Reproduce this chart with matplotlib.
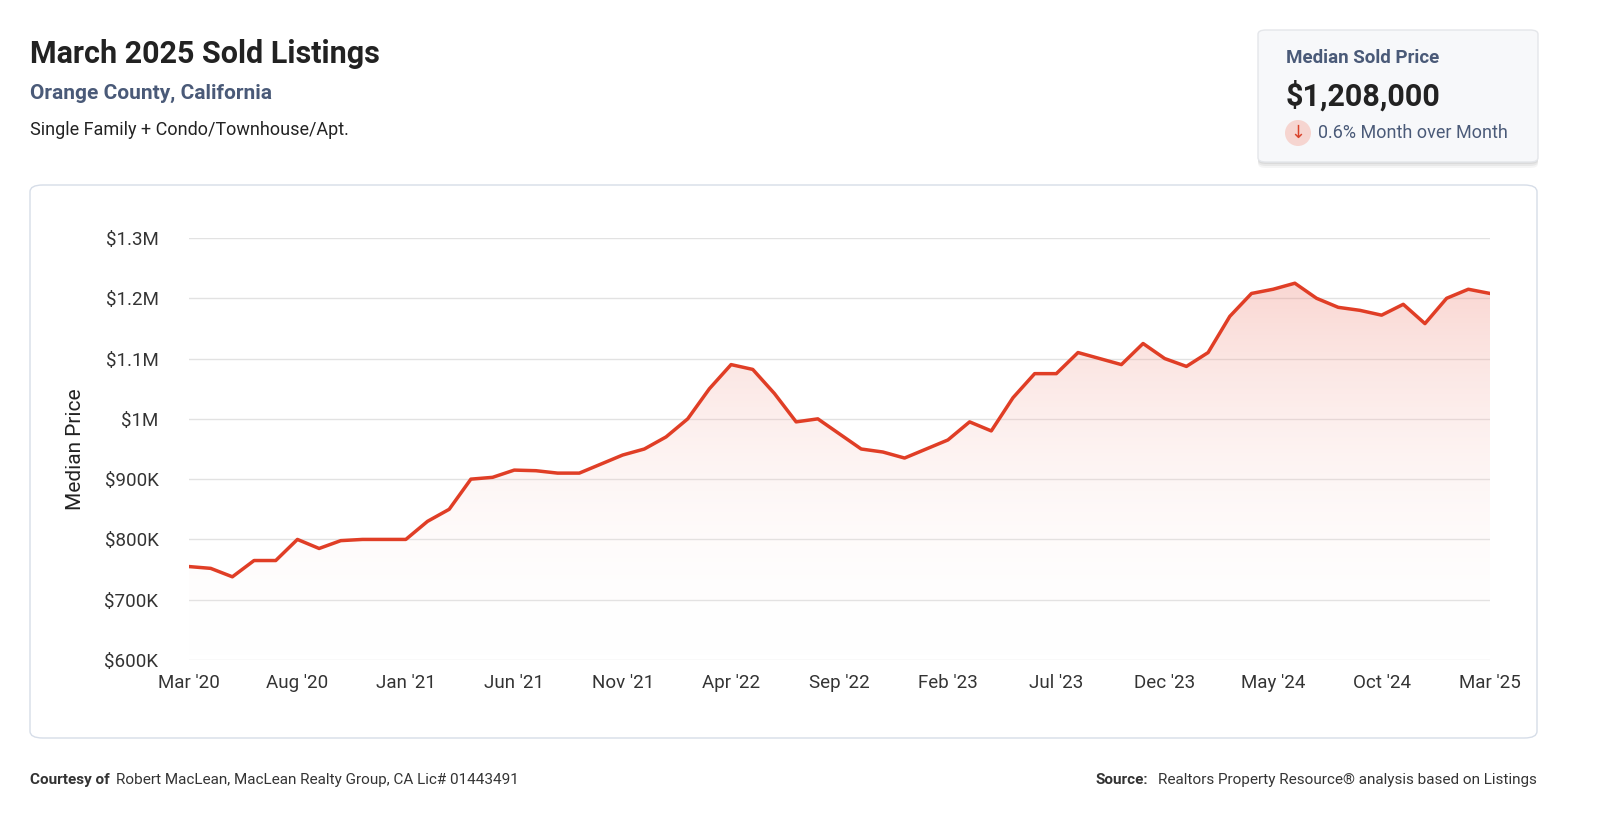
import numpy as np
import matplotlib.pyplot as plt
from matplotlib.patches import FancyBboxPatch, Ellipse
from matplotlib.ticker import FuncFormatter
from matplotlib.colors import LinearSegmentedColormap

plt.rcParams['font.family'] = 'Roboto'

# monthly median sold price, Mar 2020 .. Mar 2025 (thousands of $)
prices = [755, 752, 738, 765, 765, 800, 785, 798, 800, 800,
          800, 830, 850, 900, 903, 915, 914, 910, 910, 925,
          940, 950, 970, 1000, 1050, 1090, 1082, 1042, 995, 1000,
          975, 950, 945, 935, 950, 965, 995, 980, 1035, 1075,
          1075, 1110, 1100, 1090, 1125, 1100, 1087, 1110, 1170, 1208,
          1215, 1225, 1200, 1185, 1180, 1172, 1190, 1158, 1200, 1215,
          1208]
tick_labels = ["Mar '20", "Aug '20", "Jan '21", "Jun '21", "Nov '21", "Apr '22",
               "Sep '22", "Feb '23", "Jul '23", "Dec '23", "May '24", "Oct '24", "Mar '25"]
y_ticks = [600, 700, 800, 900, 1000, 1100, 1200, 1300]

W, H = 1600, 840
fig = plt.figure(figsize=(16, 8.4), dpi=100)
fig.patch.set_facecolor('white')

def fx(px): return px / W
def fy(py): return 1 - py / H

# header
fig.text(fx(30), fy(54), "March 2025 Sold Listings", fontsize=22, fontweight='bold', color='#222222', va='center')
fig.text(fx(30), fy(93), "Orange County, California", fontsize=15, fontweight='bold', color='#4a5a78', va='center')
fig.text(fx(30), fy(130), "Single Family + Condo/Townhouse/Apt.", fontsize=13, color='#222222', va='center')

# info card (with soft shadow)
for off, a in [(6, 0.04), (4, 0.05), (2, 0.06)]:
    fig.patches.append(FancyBboxPatch((fx(1258), fy(162 + off)), fx(280), (162 - 30) / H,
                                      boxstyle="round,pad=0,rounding_size=0.005", transform=fig.transFigure,
                                      facecolor='black', alpha=a, edgecolor='none'))
fig.patches.append(FancyBboxPatch((fx(1258), fy(162)), fx(280), (162 - 30) / H,
                                  boxstyle="round,pad=0,rounding_size=0.005", transform=fig.transFigure,
                                  facecolor='#f7f8fa', edgecolor='#e4e6ea'))
fig.text(fx(1286), fy(58), "Median Sold Price", fontsize=13.5, fontweight='bold', color='#4a5a78', va='center')
fig.text(fx(1286), fy(96), "$1,208,000", fontsize=22, fontweight='bold', color='#222222', va='center')
fig.patches.append(Ellipse((fx(1298), fy(133)), fx(26), 26 / H, transform=fig.transFigure,
                           facecolor='#f6d5d0', edgecolor='none'))
fig.text(fx(1298), fy(133), "↓", fontsize=13, color='#d9432b', ha='center', va='center', fontfamily='DejaVu Sans')
fig.text(fx(1318), fy(133), "0.6% Month over Month", fontsize=13, color='#4a5a78', va='center')

# chart card
fig.patches.append(FancyBboxPatch((fx(30), fy(738)), fx(1507), (738 - 185) / H,
                                  boxstyle="round,pad=0,rounding_size=0.008", transform=fig.transFigure,
                                  facecolor='white', edgecolor='#d6dde8', linewidth=1, zorder=0))

ax = fig.add_axes([fx(189), fy(660), fx(1490 - 189), (660 - 238) / H])
ax.set_zorder(2)
ax.patch.set_alpha(0)
x = np.arange(len(prices))
ax.plot(x, prices, color='#e03e26', linewidth=2.5, zorder=3)

# vertical gradient fill under the line
grad = np.linspace(0, 1, 256).reshape(-1, 1)
cmap = LinearSegmentedColormap.from_list('g', [(1, 1, 1, 0.0), (0.94, 0.55, 0.5, 0.35)])
im = ax.imshow(grad, aspect='auto', cmap=cmap, origin='lower',
               extent=[0, len(prices) - 1, 600, max(prices)], zorder=1)
poly = ax.fill_between(x, prices, 600, color='none')
im.set_clip_path(poly.get_paths()[0], transform=ax.transData)

ax.set_xlim(0, len(prices) - 1)
ax.set_ylim(600, 1300)
ax.set_yticks(y_ticks)
ax.yaxis.set_major_formatter(FuncFormatter(lambda v, p: f"${v/1000:g}M" if v >= 1000 else f"${v:g}K"))
ax.set_xticks(np.arange(0, len(prices), 5))
ax.set_xticklabels(tick_labels)
ax.grid(axis='y', color='#e2e2e2', linewidth=1)
ax.set_axisbelow(True)
for s in ax.spines.values():
    s.set_visible(False)
ax.tick_params(length=0, labelsize=13.5, colors='#333333')
ax.tick_params(axis='y', pad=22)
ax.tick_params(axis='x', pad=10)
ax.set_ylabel("Median Price", fontsize=15, color='#222222', labelpad=14)

# footer
fig.text(fx(30), fy(780), "Courtesy of", fontsize=11, fontweight='bold', color='#333333', va='center')
fig.text(fx(116), fy(780), "Robert MacLean, MacLean Realty Group, CA Lic# 01443491",
         fontsize=11, color='#333333', va='center')
fig.text(fx(1537), fy(780), "Realtors Property Resource\u00ae analysis based on Listings",
         fontsize=11, color='#333333', va='center', ha='right')
fig.text(fx(1148), fy(780), "Source:", fontsize=11, fontweight='bold', color='#333333', va='center', ha='right')

fig.savefig('out.png', dpi=100)
